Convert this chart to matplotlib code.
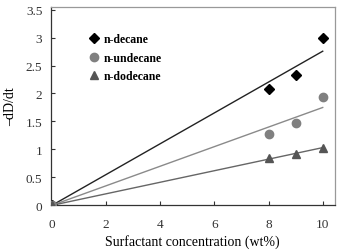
import numpy as np
import matplotlib
matplotlib.use('Agg')
import matplotlib.pyplot as plt

plt.rcParams['font.family'] = ['Liberation Serif', 'DejaVu Serif']

conc = [0, 8, 9, 10]
decane = [0.0, 2.08, 2.33, 2.99]
undecane = [0.0, 1.28, 1.48, 1.93]
dodecane = [0.0, 0.85, 0.92, 1.02]
names = ['n-decane', 'n-undecane', 'n-dodecane']

series = [decane, undecane, dodecane]
markers = ['D', 'o', '^']
mcolors = ['#000000', '#808080', '#555555']
lcolors = ['#222222', '#8a8a8a', '#666666']
msizes = [5, 6, 6]

fig = plt.figure(figsize=(3.4, 2.51), dpi=100)
ax = fig.add_axes([0.149, 0.178, 0.836, 0.791])

x = np.array(conc, dtype=float)
xs = np.array([0, 10.0])
for y, m, mc, lc, ms, name in zip(series, markers, mcolors, lcolors, msizes, names):
    y = np.array(y)
    # linear trendline forced through origin
    k = (x * y).sum() / (x * x).sum()
    ax.plot(xs, k * xs, color=lc, lw=1.0, zorder=2)
    ax.plot(x, y, ls='none', marker=m, color=mc, ms=ms, mec=mc, label=name, zorder=3)

ax.set_xlim(-0.05, 10.45)
ax.set_ylim(0, 3.55)
ax.set_xticks([0, 2, 4, 6, 8, 10])
ax.set_xticklabels(['0', '2', '4', '6', '8', '10'])
ax.set_yticks([0, 0.5, 1, 1.5, 2, 2.5, 3, 3.5])
ax.set_yticklabels(['0', '0.5', '1', '1.5', '2', '2.5', '3', '3.5'])
ax.tick_params(direction='in', length=3, width=0.8, colors='#333333', labelsize=9.5)
ax.tick_params(axis='x', pad=9)
ax.tick_params(axis='y', pad=6)

ax.spines['left'].set_color('#333333')
ax.spines['bottom'].set_color('#333333')
ax.spines['top'].set_color('#999999')
ax.spines['right'].set_color('#999999')
for s in ax.spines.values():
    s.set_linewidth(0.9)

ax.set_xlabel('Surfactant concentration (wt%)', fontsize=10, labelpad=3)
ax.set_ylabel('\u2013dD/dt', fontsize=10, labelpad=6)

leg = ax.legend(loc='upper left', bbox_to_anchor=(0.115, 0.89), frameon=False,
                prop={'weight': 'bold', 'size': 8.5}, handletextpad=0.3,
                labelspacing=0.55, handlelength=1.0, borderaxespad=0)

fig.savefig('out.png', dpi=100)
